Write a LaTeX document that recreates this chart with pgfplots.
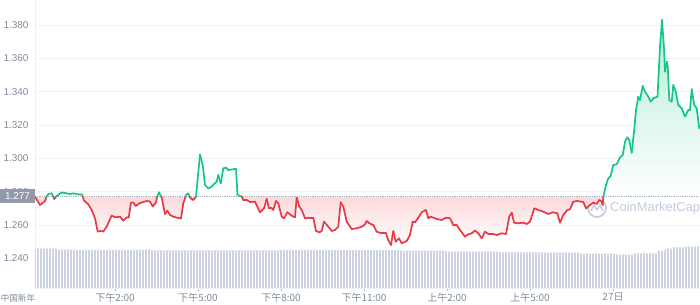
\documentclass[border=0pt]{standalone}
\usepackage{fontspec}
\setmainfont{Liberation Sans}
\newfontfamily\cjk{Noto Sans CJK SC}
\usepackage{pgfplots}
\usepackage{pgfplotstable}
\pgfplotsset{compat=1.18}
\usetikzlibrary{patterns.meta}
\definecolor{upg}{HTML}{16C784}
\definecolor{dnr}{HTML}{EA3943}
\definecolor{gridc}{HTML}{EFF2F5}
\definecolor{tickc}{HTML}{808A9D}
\definecolor{volc}{HTML}{CDD3E3}
\definecolor{basec}{HTML}{A6B0C3}
\definecolor{boxc}{HTML}{9299A8}
\definecolor{wmc}{HTML}{C5CBDD}
\colorlet{gfill}{upg!32!white}
\colorlet{rfill}{dnr!19!white}
% price range 1.2480 .. 1.3830 mapped to 25bp .. 75bp; baseline 1.277 at 35.74bp
\pgfdeclareverticalshading{pricefill}{100bp}{color(0bp)=(white); color(25bp)=(white); color(35.72bp)=(rfill); color(35.76bp)=(white); color(75bp)=(gfill); color(100bp)=(gfill)}

\pgfplotstableread{
x y
35 1.2770
40 1.2720
45 1.2744
46.5 1.2770
48.3 1.2786
51.7 1.2790
53.3 1.2770
54.3 1.2756
56 1.2770
56.7 1.2774
61.7 1.2795
66.7 1.2790
70 1.2786
73.3 1.2790
78 1.2784
82.3 1.2783
82.7 1.2770
84 1.2747
88.3 1.2724
91.7 1.2690
95 1.2640
97.7 1.2561
100.5 1.2564
103.3 1.2561
106.7 1.2590
111.7 1.2657
115 1.2646
120 1.2650
123.3 1.2626
126.7 1.2646
128.7 1.2645
131 1.2734
133.3 1.2735
135.7 1.2714
140 1.2732
146.7 1.2744
150 1.2741
152.7 1.2711
156 1.2736
157.2 1.2770
159 1.2796
161.2 1.2770
161.7 1.2764
165 1.2666
167.3 1.2686
170 1.2660
173.3 1.2650
178.3 1.2642
181 1.2640
183.3 1.2730
185.5 1.2770
186 1.2780
188.3 1.2790
189.7 1.2770
190.7 1.2760
193.3 1.2750
196 1.2770
200 1.3023
202.7 1.2960
205 1.2840
208.3 1.2820
211.7 1.2830
214 1.2846
216.7 1.2860
218.3 1.2900
220.7 1.2850
223.3 1.2940
226 1.2944
228.3 1.2930
233.3 1.2934
236 1.2938
237.5 1.2780
241.7 1.2770
243.3 1.2750
246.7 1.2750
250 1.2738
255 1.2740
260 1.2676
264 1.2700
266.7 1.2756
269 1.2700
271 1.2704
273.3 1.2690
276 1.2744
278.3 1.2730
281.7 1.2650
284 1.2640
287.3 1.2676
291.7 1.2656
295 1.2646
296.7 1.2764
299.3 1.2710
301.7 1.2690
305 1.2640
310 1.2644
313.3 1.2644
316 1.2564
319.3 1.2556
321.7 1.2564
324 1.2620
328.3 1.2590
331.7 1.2564
335 1.2570
338.3 1.2590
340.7 1.2736
343.3 1.2710
346.7 1.2620
351.7 1.2576
356.7 1.2580
361.7 1.2590
365 1.2604
366.7 1.2624
369.3 1.2610
373.3 1.2600
376.7 1.2560
381.7 1.2550
386 1.2550
388.3 1.2510
391 1.2480
393.3 1.2564
395.7 1.2500
399 1.2520
401.7 1.2490
406.7 1.2504
410 1.2540
412.7 1.2620
415 1.2616
418.3 1.2644
421.7 1.2676
426 1.2690
428.3 1.2640
430.7 1.2650
436.7 1.2636
441.7 1.2630
446 1.2644
450 1.2640
453.3 1.2600
456.7 1.2600
460 1.2570
465 1.2530
468.3 1.2544
471.7 1.2550
475 1.2567
478.3 1.2550
481.7 1.2520
485 1.2560
488.3 1.2546
493.3 1.2546
496.7 1.2540
501.7 1.2550
506 1.2546
509.3 1.2650
511.7 1.2674
514 1.2614
518.3 1.2610
523.3 1.2614
526.7 1.2606
530 1.2620
534.3 1.2700
538.3 1.2690
543.3 1.2680
548.3 1.2666
552.7 1.2676
557.3 1.2670
560 1.2614
563.3 1.2660
567.3 1.2690
570 1.2694
573.3 1.2740
577.3 1.2744
580 1.2741
583.3 1.2738
586 1.2700
590 1.2720
593.3 1.2734
596.7 1.2726
599.3 1.2750
601.7 1.2740
602.7 1.2720
603.3 1.2770
606 1.2840
608.3 1.2880
610.7 1.2894
613.3 1.2960
616.7 1.2964
620 1.3006
622.7 1.3020
625 1.3100
627.3 1.3126
629.3 1.3110
631.7 1.3034
634 1.3160
636 1.3290
638.3 1.3370
640 1.3350
642.7 1.3434
645 1.3400
648.3 1.3370
650.7 1.3340
653.3 1.3360
657.5 1.3370
660 1.3670
662 1.3830
664 1.3660
665 1.3520
666.7 1.3580
667.7 1.3550
669.3 1.3350
671.7 1.3340
673.3 1.3440
675.7 1.3400
678.3 1.3320
681.7 1.3300
685 1.3250
688.3 1.3290
690 1.3290
691.7 1.3414
694.3 1.3320
696.7 1.3300
699.3 1.3180
}\price

\pgfplotstableread{
x v
35 1.2458
58 1.2452
70 1.2450
140 1.2452
150 1.2448
280 1.2450
330 1.2449
400 1.2446
446 1.2440
500 1.2436
540 1.2434
580 1.2428
616 1.2422
634 1.2430
658 1.2445
665 1.2458
672 1.2466
685 1.2470
700 1.2472
}\volume

\begin{document}
\begin{tikzpicture}
\useasboundingbox (-35bp,-17bp) rectangle (665bp,288bp);
% watermark
\draw[wmc, line width=1.7bp] (562bp,80bp) circle (9bp);
\draw[wmc, line width=1.5bp, line join=round] (556bp,77bp) -- (559bp,83bp) -- (562bp,78bp) -- (565bp,83bp) -- (568bp,77bp);
\node[text=wmc, font=\fontsize{13}{14}\selectfont, anchor=west, inner sep=0] at (575bp,80bp) {CoinMarketCap};
\begin{axis}[
  at={(0,0)}, anchor=south west,
  width=665bp, height=288bp, scale only axis,
  xmin=35, xmax=700, ymin=1.2222, ymax=1.395,
  axis x line*=bottom, axis y line*=left,
  axis line style={-, draw=gridc, line width=0.8bp},
  xtick={115,198,281,364,447,530,613},
  xticklabels={下午2:00,下午5:00,下午8:00,下午11:00,上午2:00,上午5:00,27日},
  xticklabel style={font=\cjk\fontsize{10}{11}\selectfont, text=tickc, yshift=1.5bp},
  x tick style={draw=tickc!60, line width=0.6bp},
  tick align=outside, major tick length=3bp,
  ytick={1.24,1.26,1.28,1.30,1.32,1.34,1.36,1.38},
  y tick style={draw=none},
  yticklabel style={font=\fontsize{10}{11}\selectfont, text=tickc,
    /pgf/number format/.cd, fixed, fixed zerofill, precision=3},
  /pgf/number format/assume math mode=true,
  ymajorgrids, grid style={draw=gridc, line width=0.8bp},
]
% volume
\addplot[const plot, draw=none, fill=volc,
  postaction={pattern={Lines[angle=90,distance=3bp,line width=0.9bp]}, pattern color=white}]
  table[x=x,y=v] {\volume} \closedcycle;
% area between price and its opening level
\addplot[draw=none, shading=pricefill] table[x=x,y=y] {\price}
  -- (axis cs:699.3,1.277) -- (axis cs:35,1.277) -- cycle;
\addplot[basec, densely dotted, line width=0.8bp] coordinates {(35,1.277) (700,1.277)};
\addplot[mesh, shader=flat, point meta=\thisrow{y}, point meta min=1.177, point meta max=1.377,
  colormap={rg}{color(0cm)=(dnr) color(10cm)=(dnr) color(10.01cm)=(upg) color(20cm)=(upg)},
  line width=1.7bp, line cap=round, line join=round] table[x=x,y=y] {\price};
\end{axis}
\node[fill=boxc, text=white, minimum width=35bp, minimum height=14bp, inner sep=0,
  font=\fontsize{10}{11}\selectfont] at (-17.5bp,91.8bp) {1.277};
\node[text=tickc, font=\cjk\fontsize{8.6}{10}\selectfont, anchor=north, inner sep=0] at (-17bp,-6bp) {中国新年};
\end{tikzpicture}
\end{document}
